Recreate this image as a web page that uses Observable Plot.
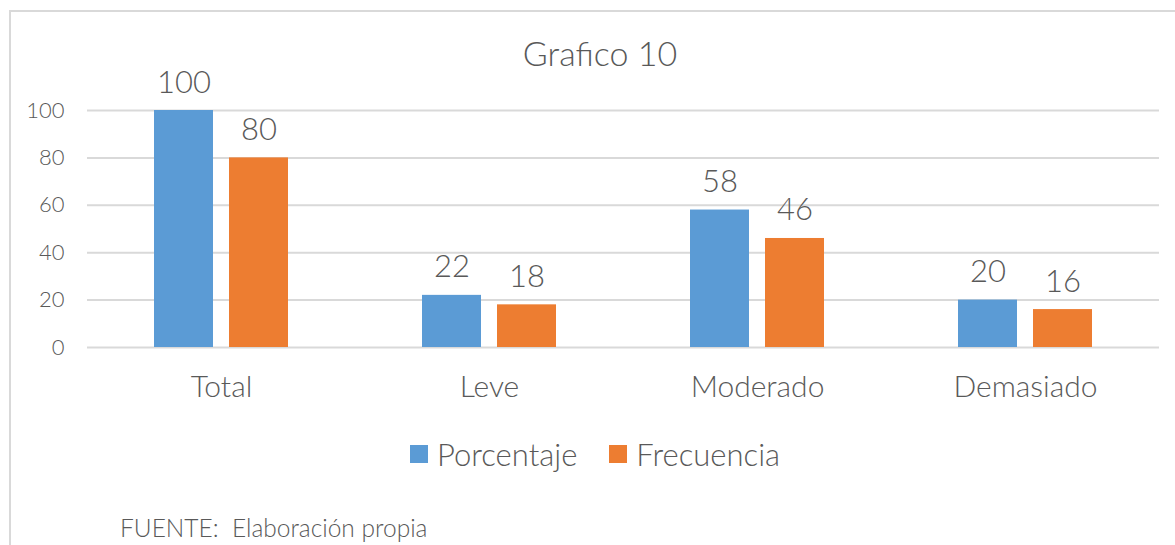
<!DOCTYPE html>
<html>
<head>
<meta charset="utf-8">
<script src="https://cdn.jsdelivr.net/npm/d3@7"></script>
<script src="https://cdn.jsdelivr.net/npm/@observablehq/plot@0.6"></script>
<style>
  html, body { margin: 0; padding: 0; background: #fff; width: 1175px; height: 545px; overflow: hidden; }
  body { position: relative; font-family: "Lato", "Open Sans", sans-serif; font-weight: 300; color: #595959; }
  #frame { position: absolute; left: 9px; top: 10px; width: 1200px; height: 600px; border: 2px solid #d9d9d9; box-sizing: border-box; }
  #title { position: absolute; left: 0; width: 1200px; top: 33px; text-align: center; font-size: 34px; line-height: 40px; }
  #chart { position: absolute; left: 0; top: 0; }
  #legend { position: absolute; top: 434px; left: 0; width: 1190px; display: flex; justify-content: center; gap: 32px; font-size: 31px; line-height: 40px; }
  .item { display: flex; align-items: center; gap: 9px; }
  .sw { width: 18px; height: 18px; display: inline-block; }
  #caption { position: absolute; left: 120px; top: 512px; font-size: 24.5px; line-height: 32px; }
</style>
</head>
<body>
<div id="frame"></div>
<div id="title">Grafico 10</div>
<div id="chart"></div>
<div id="legend"></div>
<div id="caption">FUENTE:&nbsp; Elaboración propia</div>
<script>
const categories = ["Total", "Leve", "Moderado", "Demasiado"];
const series = ["Porcentaje", "Frecuencia"];
const porcentaje = [100, 22, 58, 20];
const frecuencia = [80, 18, 46, 16];
const colors = ["#5B9BD5", "#ED7D31"];
const yTicks = [0, 20, 40, 60, 80, 100];

const data = [];
categories.forEach((c, i) => {
  data.push({category: c, serie: series[0], value: porcentaje[i]});
  data.push({category: c, serie: series[1], value: frecuencia[i]});
});

const textColor = "#595959";
const plot = Plot.plot({
  width: 1175,
  height: 420,
  marginLeft: 86,
  marginRight: 15,
  marginTop: 110,
  marginBottom: 73,
  style: {fontFamily: "Lato, 'Open Sans', sans-serif", fontWeight: 300, color: textColor, background: "transparent"},
  fx: {domain: categories, padding: 0, label: null, axis: null},
  x: {domain: series, paddingInner: 0.2105, paddingOuter: 0.872, axis: null},
  y: {domain: [0, 100], axis: null},
  color: {domain: series, range: colors},
  marks: [
    Plot.ruleY(yTicks, {stroke: "#d9d9d9", strokeWidth: 2}),
    Plot.axisY({ticks: yTicks, tickSize: 0, tickPadding: 23, fontSize: 22, label: null, fill: textColor}),
    Plot.axisFx({anchor: "bottom", tickSize: 0, tickPadding: 28, fontSize: 30, label: null, fill: textColor}),
    Plot.barY(data, {fx: "category", x: "serie", y: "value", fill: "serie"}),
    Plot.text(data, {fx: "category", x: "serie", y: "value", text: d => String(d.value), lineAnchor: "bottom", dy: -18, fontSize: 31, fill: textColor})
  ]
});
document.getElementById("chart").appendChild(plot);

const legend = document.getElementById("legend");
series.forEach((s, i) => {
  const it = document.createElement("div");
  it.className = "item";
  const sw = document.createElement("span");
  sw.className = "sw";
  sw.style.background = colors[i];
  const lb = document.createElement("span");
  lb.textContent = s;
  it.appendChild(sw); it.appendChild(lb);
  legend.appendChild(it);
});
</script>
</body>
</html>
